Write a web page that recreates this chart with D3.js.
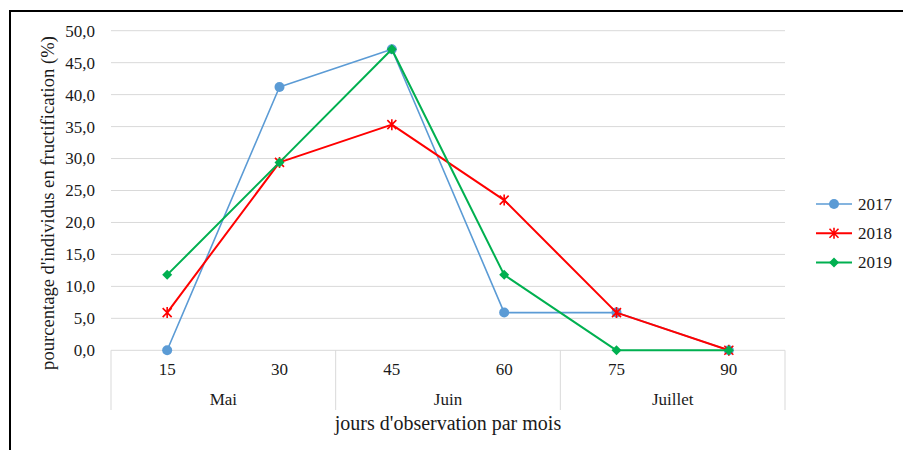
<!DOCTYPE html>
<html>
<head>
<meta charset="utf-8">
<script src="https://cdn.jsdelivr.net/npm/d3@7/dist/d3.min.js"></script>
<style>
  html, body { margin: 0; padding: 0; background: #fff; }
  svg text { font-family: "Liberation Serif", "Times New Roman", "DejaVu Serif", serif !important; }
</style>
</head>
<body>
<svg id="chart" width="903" height="450"></svg>
<script>
// Observation days and the month each one falls in
const days = ["15", "30", "45", "60", "75", "90"];
const months = ["Mai", "Mai", "Juin", "Juin", "Juillet", "Juillet"];
const monthNames = ["Mai", "Juin", "Juillet"];

// Percentage of individuals fruiting, per year
const values2017 = [0.0, 41.2, 47.1, 5.9, 5.9, 0.0];
const values2018 = [5.9, 29.4, 35.3, 23.5, 5.9, 0.0];
const values2019 = [11.8, 29.4, 47.1, 11.8, 0.0, 0.0];

const yTicks = [0, 5, 10, 15, 20, 25, 30, 35, 40, 45, 50];

const seriesList = [
  { name: "2017", values: values2017, color: "#5B9BD5", width: 1.6, marker: "circle" },
  { name: "2018", values: values2018, color: "#FF0000", width: 2, marker: "star" },
  { name: "2019", values: values2019, color: "#00B050", width: 2, marker: "diamond" }
];

const textColor = "#1a1a1a";
const smallSize = 17;
const svg = d3.select("#chart");

// Outer frame
svg.append("rect")
  .attr("x", 10).attr("y", 11)
  .attr("width", 900).attr("height", 450)
  .attr("fill", "none").attr("stroke", "#000").attr("stroke-width", 2);

const plotLeft = 111, plotRight = 785, plotTop = 30.7, plotBottom = 350.3;

const x = d3.scaleBand().domain(days).range([plotLeft, plotRight]).padding(0);
const y = d3.scaleLinear().domain([0, 50]).range([plotBottom, plotTop]);

// Horizontal gridlines
svg.append("g").selectAll("line").data(yTicks.filter(t => t > 0)).join("line")
  .attr("x1", plotLeft).attr("x2", plotRight)
  .attr("y1", d => y(d)).attr("y2", d => y(d))
  .attr("stroke", "#D9D9D9").attr("stroke-width", 1);

// Y axis labels
const yAxis = d3.axisLeft(y).tickValues(yTicks).tickSize(0).tickPadding(0)
  .tickFormat(d => d3.format(".1f")(d).replace(".", ","));
const yg = svg.append("g").attr("transform", `translate(${plotLeft - 16},0)`).call(yAxis);
yg.select(".domain").remove();
yg.selectAll("text").attr("font-size", smallSize).attr("fill", textColor);

// Category axis: baseline, day labels and month groups
const axisCol = "#D9D9D9";
svg.append("line")
  .attr("x1", plotLeft).attr("x2", plotRight).attr("y1", plotBottom).attr("y2", plotBottom)
  .attr("stroke", axisCol).attr("stroke-width", 1);

const xAxis = d3.axisBottom(x).tickSize(0).tickPadding(0);
const xg = svg.append("g").attr("transform", `translate(0,${plotBottom + 25})`).call(xAxis);
xg.select(".domain").remove();
xg.selectAll("text").attr("dy", 0).attr("font-size", smallSize).attr("fill", textColor);

// Month group boundaries and labels
const groups = monthNames.map(m => {
  const idx = months.map((mm, i) => mm === m ? i : -1).filter(i => i >= 0);
  return { name: m, x0: x(days[idx[0]]), x1: x(days[idx[idx.length - 1]]) + x.bandwidth() };
});
const bounds = [groups[0].x0].concat(groups.map(g => g.x1));
svg.append("g").selectAll("line").data(bounds).join("line")
  .attr("x1", d => d).attr("x2", d => d)
  .attr("y1", plotBottom).attr("y2", 410)
  .attr("stroke", axisCol).attr("stroke-width", 1);
svg.append("g").selectAll("text").data(groups).join("text")
  .attr("x", d => (d.x0 + d.x1) / 2).attr("y", 405)
  .attr("text-anchor", "middle")
  .attr("font-size", smallSize).attr("fill", textColor)
  .text(d => d.name);

// Axis titles
svg.append("text")
  .attr("x", 448).attr("y", 430)
  .attr("text-anchor", "middle").attr("font-size", 20).attr("fill", textColor)
  .text("jours d'observation par mois");
svg.append("text")
  .attr("transform", `translate(54,203) rotate(-90)`)
  .attr("text-anchor", "middle").attr("font-size", 18.6).attr("fill", textColor)
  .text("pourcentage d'individus en fructification (%)");

// Marker drawing
function drawMarker(g, type, color) {
  if (type === "circle") {
    g.append("circle").attr("r", 5).attr("fill", color);
  } else if (type === "diamond") {
    g.append("path").attr("d", "M0,-5L5,0L0,5L-5,0Z").attr("fill", color);
  } else if (type === "star") {
    g.append("path")
      .attr("d", "M-4.5,-4.5L4.5,4.5M-4.5,4.5L4.5,-4.5M0,-5.5L0,5.5")
      .attr("stroke", color).attr("stroke-width", 1.6).attr("fill", "none");
  }
}

const line = d3.line()
  .x((d, i) => x(days[i]) + x.bandwidth() / 2)
  .y(d => y(d));

seriesList.forEach(s => {
  const g = svg.append("g");
  g.append("path").datum(s.values)
    .attr("d", line).attr("fill", "none")
    .attr("stroke", s.color).attr("stroke-width", s.width)
    .attr("stroke-linejoin", "round");
  s.values.forEach((v, i) => {
    const mg = g.append("g")
      .attr("transform", `translate(${x(days[i]) + x.bandwidth() / 2},${y(v)})`);
    drawMarker(mg, s.marker, s.color);
  });
});

// Legend
const legend = svg.append("g");
seriesList.forEach((s, i) => {
  const ly = 204 + i * 29.3;
  const lg = legend.append("g");
  lg.append("line").attr("x1", 816).attr("x2", 852).attr("y1", ly).attr("y2", ly)
    .attr("stroke", s.color).attr("stroke-width", s.width);
  const mg = lg.append("g").attr("transform", `translate(834,${ly})`);
  drawMarker(mg, s.marker, s.color);
  lg.append("text").attr("x", 858).attr("y", ly + 5.5)
    .attr("font-size", smallSize).attr("fill", textColor).text(s.name);
});
</script>
</body>
</html>
